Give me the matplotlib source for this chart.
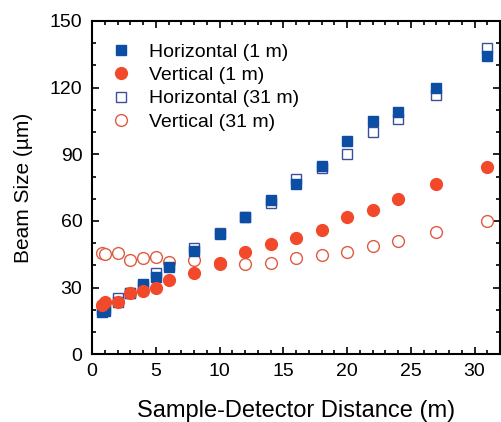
import matplotlib
matplotlib.use("Agg")
import matplotlib.pyplot as plt
from matplotlib.ticker import MultipleLocator

plt.rcParams['font.family'] = ['Liberation Sans', 'DejaVu Sans']

x = [0.75, 1, 2, 3, 4, 5, 6, 8, 10, 12, 14, 16, 18, 20, 22, 24, 27, 31]
h_1m = [19.0, 19.5, 23.4, 27.5, 31.5, 35.0, 39.5, 46.6, 54.0, 61.6, 69.4, 76.6, 84.9, 96.0, 105.0, 109.0, 120.0, 134.4]
v_1m = [22.0, 23.7, 23.7, 27.5, 28.6, 30.0, 33.5, 36.7, 41.0, 45.9, 49.5, 52.5, 56.0, 61.8, 65.0, 70.0, 76.8, 84.4]
h_31m = [20.5, 21.0, 25.2, 27.5, 30.8, 36.4, 40.0, 47.7, 54.5, 62.0, 68.0, 79.0, 83.7, 90.0, 100.0, 106.0, 116.8, 137.7]
v_31m = [45.4, 45.3, 45.4, 42.6, 43.2, 43.8, 41.7, 42.4, 40.8, 40.6, 41.0, 43.2, 44.7, 46.2, 48.9, 51.0, 54.9, 60.0]

labels = ['Horizontal (1 m)', 'Vertical (1 m)', 'Horizontal (31 m)', 'Vertical (31 m)']
xticks = [0, 5, 10, 15, 20, 25, 30]
yticks = [0, 30, 60, 90, 120, 150]

blue = '#0c4ea3'
red = '#f2492a'
navy = '#3b4f9c'
ored = '#de5a40'

fig = plt.figure(figsize=(5.01, 4.22), dpi=100)
ax = fig.add_axes([92/501, 67.7/422, 408/501, 333.3/422])

ms = 7.5
ax.plot(x, h_1m, 's', color=blue, ms=ms, mec=blue, label=labels[0], zorder=3)
ax.plot(x, v_1m, 'o', color=red, ms=ms + 1.0, mec=red, label=labels[1], zorder=3)
ax.plot(x, h_31m, 's', mfc='white', mec=navy, mew=1.0, ms=ms, label=labels[2], zorder=2)
ax.plot(x, v_31m, 'o', mfc='white', mec=ored, mew=1.0, ms=ms + 1.0, label=labels[3], zorder=2)

ax.set_xlim(0, 32)
ax.set_ylim(0, 150)
ax.set_xticks(xticks)
ax.set_yticks(yticks)
ax.xaxis.set_minor_locator(MultipleLocator(1))
ax.yaxis.set_minor_locator(MultipleLocator(10))
ax.tick_params(which='both', direction='in', top=True, right=True, labelsize=14, width=1.2)
ax.tick_params(axis='x', which='major', pad=6)
ax.tick_params(axis='y', which='major', pad=7)
ax.tick_params(which='major', length=5)
ax.tick_params(which='minor', length=3)
for s in ax.spines.values():
    s.set_linewidth(1.5)

ax.set_xlabel('Sample-Detector Distance (m)', fontsize=17, labelpad=15)
ax.set_ylabel('Beam Size (\u00b5m)', fontsize=15, labelpad=12)

ax.legend(loc='upper left', bbox_to_anchor=(0.015, 0.975), frameon=False, fontsize=14,
          handletextpad=0.9, labelspacing=0.3, borderaxespad=0.3, handlelength=1.0)

fig.savefig('out.png', dpi=100)
